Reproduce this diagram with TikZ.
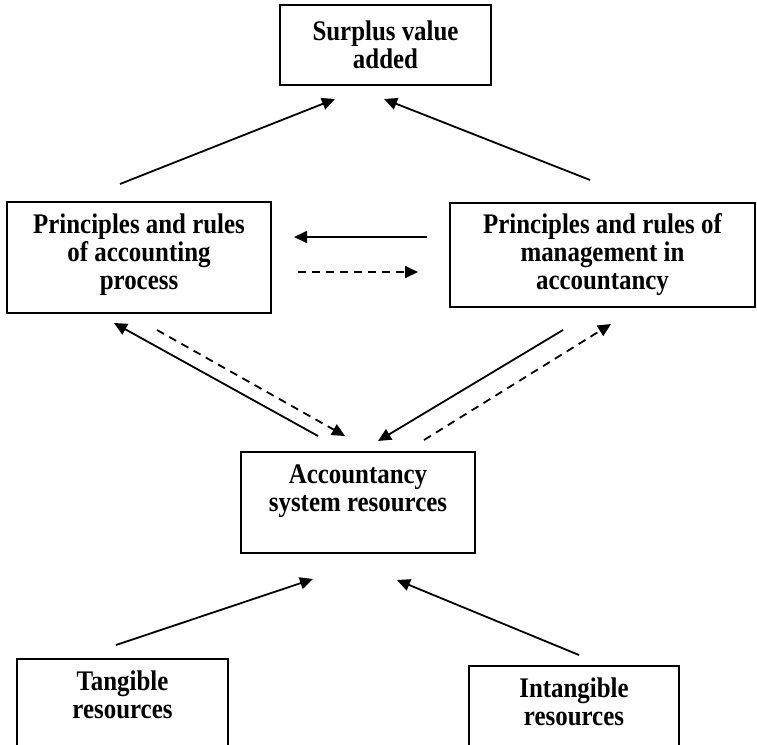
\documentclass[tikz,border=0pt]{standalone}
\usepackage{fontspec}
\usepackage{graphicx}
\setmainfont{Liberation Serif}
\usetikzlibrary{arrows.meta}

% one text line, set slightly tall; the rule fixes the height of every line
\newcommand{\tline}[1]{\scalebox{1}[1.14]{\rule{0pt}{17.5pt}#1}}

\tikzset{
  box/.style={draw, line width=1.5pt, rectangle, inner sep=0pt, fill=none},
  label/.style={font=\fontsize{24.9}{28}\selectfont\bfseries, align=center, inner sep=0pt, anchor=north},
  link/.style={line width=1.8pt, -{Triangle[length=13pt,width=12pt]}},
  dlink/.style={link, dash pattern=on 8pt off 6pt},
}

\begin{document}
\begin{tikzpicture}[x=1pt, y=-1pt]
  \clip (0,0) rectangle (757,744);
  \fill[white] (0,0) rectangle (757,744);

  % boxes
  \node[box, minimum width=211pt, minimum height=80pt]  (surplus) at (385.5,45) {};
  \node[box, minimum width=264pt, minimum height=111pt] (proc)    at (139,257.5) {};
  \node[box, minimum width=305pt, minimum height=104pt] (mgmt)    at (602.5,255) {};
  \node[box, minimum width=234pt, minimum height=101pt] (res)     at (358,502.5) {};
  \node[box, minimum width=211pt, minimum height=110pt] (tang)    at (122.5,714) {};
  \node[box, minimum width=210pt, minimum height=110pt] (intang)  at (574,721) {};

  % texts (node top = first baseline - 20)
  \node[label] (tsurplus) at (385.5,20)  {\tline{Surplus value}\\\tline{added}};
  \node[label] (tproc)    at (139,213)   {\tline{Principles and rules}\\\tline{of accounting}\\\tline{process}};
  \node[label] (tmgmt)    at (602.5,213) {\tline{Principles and rules of}\\\tline{management in}\\\tline{accountancy}};
  \node[label] (tres)     at (358,463.5) {\tline{Accountancy}\\\tline{system resources}};
  \node[label] (ttang)    at (122.5,670) {\tline{Tangible}\\\tline{resources}};
  \node[label] (tintang)  at (574,677)   {\tline{Intangible}\\\tline{resources}};

  % arrow end points
  \coordinate (a1s) at (120,184);  \coordinate (a1e) at (335,99);
  \coordinate (a2s) at (590,180);  \coordinate (a2e) at (384,99);
  \coordinate (h1s) at (427,237);  \coordinate (h1e) at (294,237);
  \coordinate (h2s) at (298,272);  \coordinate (h2e) at (418,272);
  \coordinate (d1s) at (318,436);  \coordinate (d1e) at (114,323);
  \coordinate (d2s) at (157,330);  \coordinate (d2e) at (345,436);
  \coordinate (d3s) at (563,330);  \coordinate (d3e) at (378,441);
  \coordinate (d4s) at (424,440);  \coordinate (d4e) at (611,324);
  \coordinate (b1s) at (116,645);  \coordinate (b1e) at (313,579);
  \coordinate (b2s) at (579,655);  \coordinate (b2e) at (397,580);

  % connectors
  \draw[link]  (a1s) -- (a1e);
  \draw[link]  (a2s) -- (a2e);
  \draw[link]  (h1s) -- (h1e);
  \draw[dlink] (h2s) -- (h2e);
  \draw[link]  (d1s) -- (d1e);
  \draw[dlink] (d2s) -- (d2e);
  \draw[link]  (d3s) -- (d3e);
  \draw[dlink] (d4s) -- (d4e);
  \draw[link]  (b1s) -- (b1e);
  \draw[link]  (b2s) -- (b2e);
\end{tikzpicture}
\end{document}
